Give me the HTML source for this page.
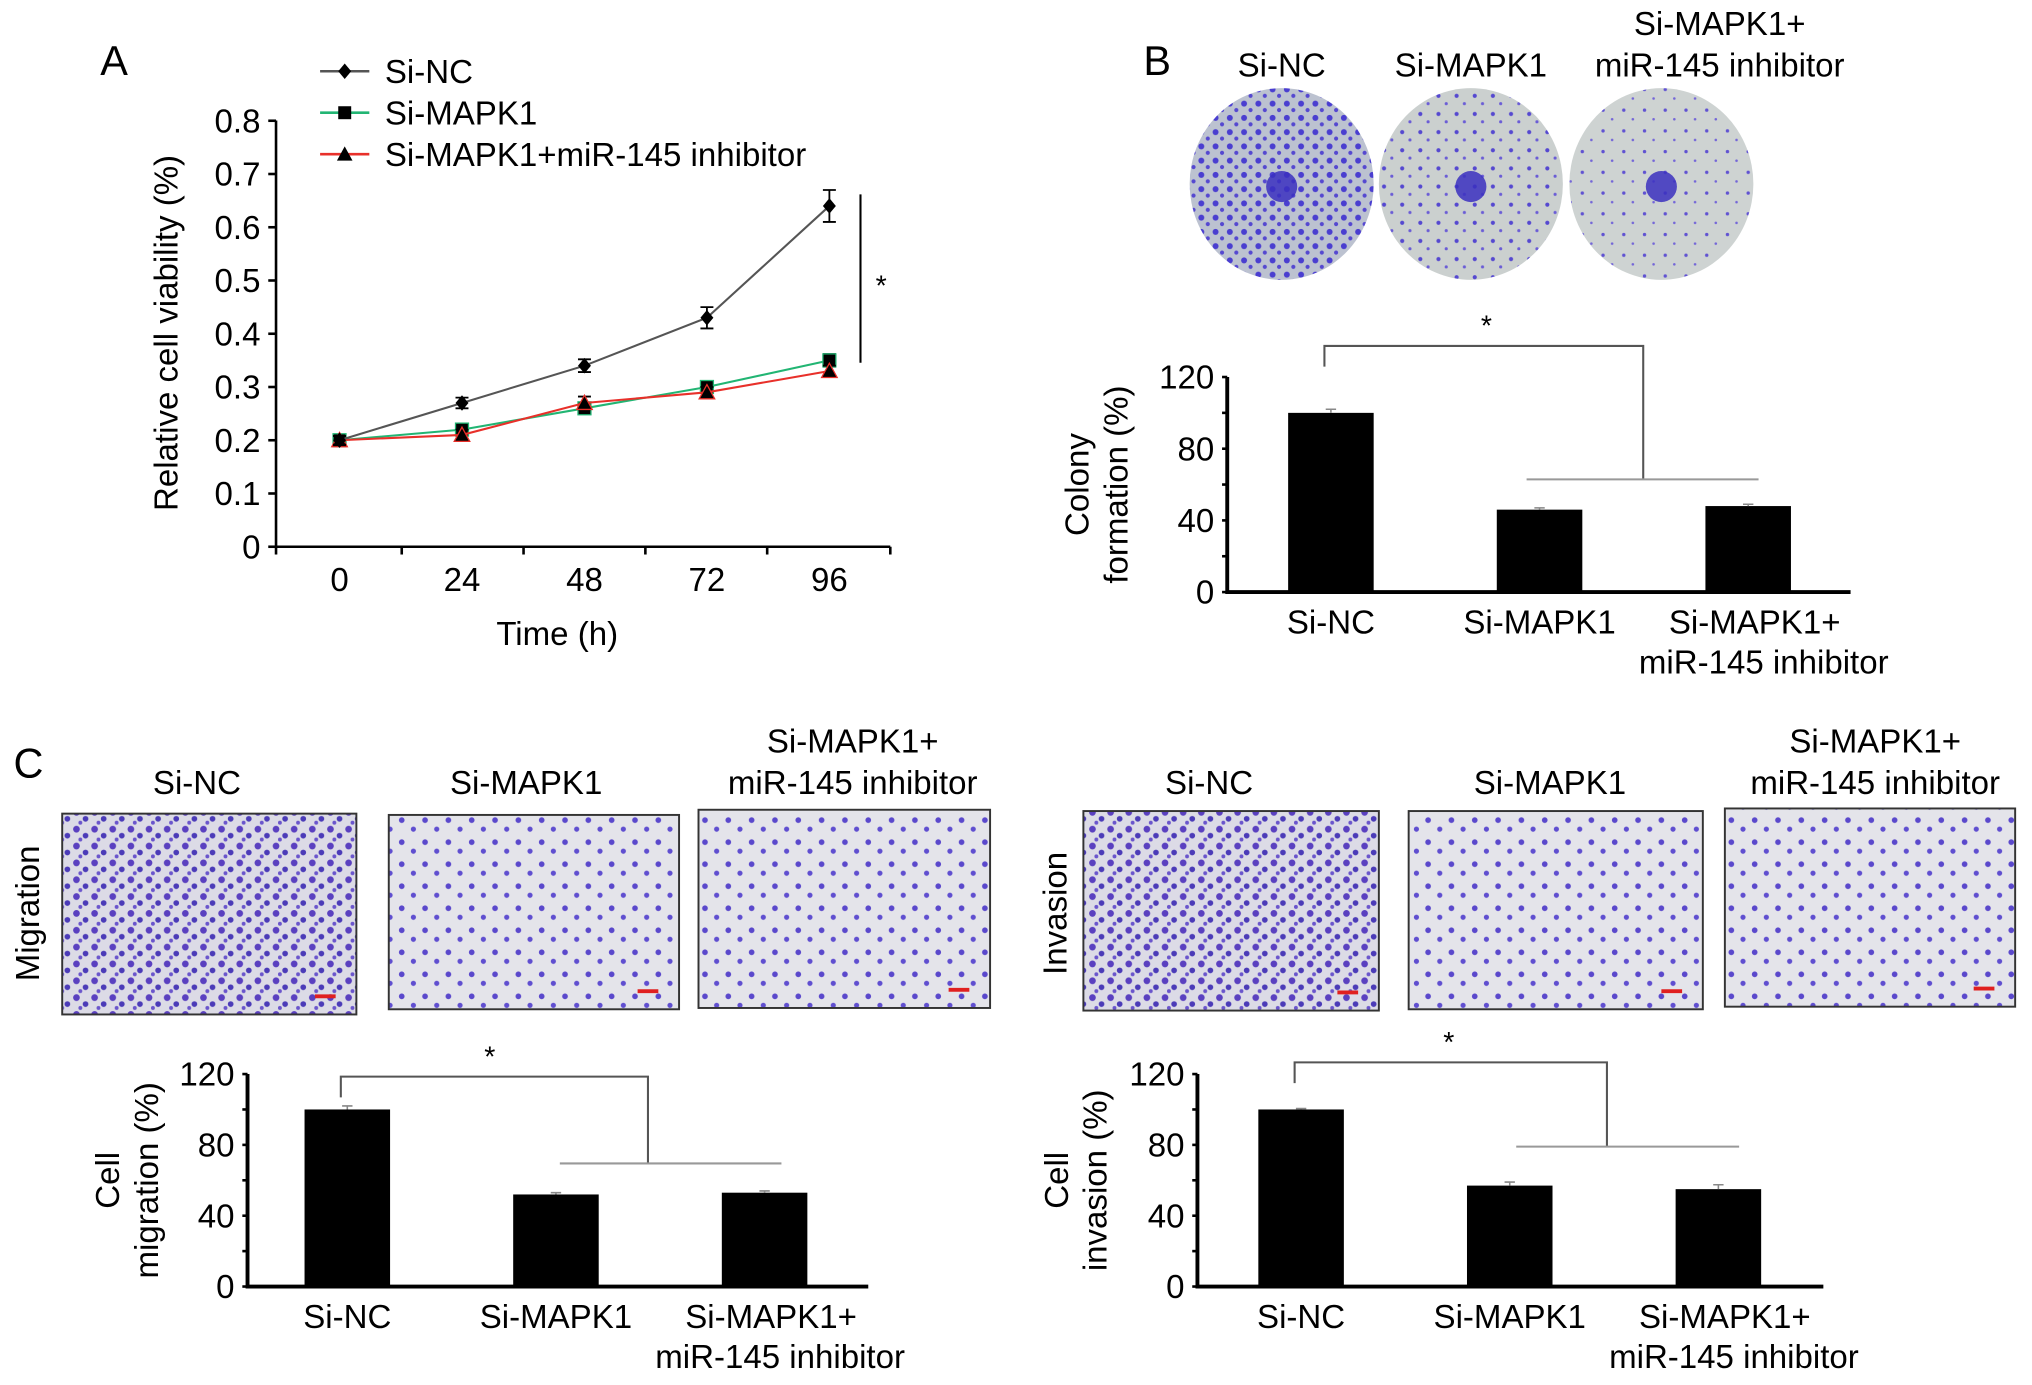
<!DOCTYPE html>
<html><head><meta charset="utf-8">
<style>
html,body{margin:0;padding:0;background:#fff;}
svg{display:block;font-family:"Liberation Sans",Arial,sans-serif;}
</style></head>
<body>
<svg id="fig" width="2032" height="1385" viewBox="0 0 1568 1069" preserveAspectRatio="none" xmlns="http://www.w3.org/2000/svg">
<defs>
<pattern id="dense" width="14" height="13" patternUnits="userSpaceOnUse">
<rect width="14" height="13" fill="#dcdbe6"/>
<circle cx="3" cy="3" r="2.6" fill="#5a40c0"/><circle cx="10" cy="8" r="2.2" fill="#4b3bb8"/><circle cx="6" cy="11" r="1.5" fill="#6a55cc"/>
</pattern>
<pattern id="mid" width="18" height="17" patternUnits="userSpaceOnUse">
<rect width="18" height="17" fill="#e4e4ea"/>
<circle cx="4" cy="4" r="2.2" fill="#5a48cc"/><circle cx="13" cy="11" r="2" fill="#5f4ed0"/>
</pattern>
<pattern id="dish1" width="11" height="11" patternUnits="userSpaceOnUse">
<rect width="11" height="11" fill="#bcc2d0"/>
<circle cx="3" cy="3" r="2.3" fill="#4a3ed0"/><circle cx="8" cy="8" r="1.6" fill="#5548d0"/>
</pattern>
<pattern id="dish2" width="14" height="14" patternUnits="userSpaceOnUse">
<rect width="14" height="14" fill="#cbd0cf"/>
<circle cx="4" cy="4" r="1.6" fill="#5548d0"/><circle cx="10" cy="10" r="1.2" fill="#6a5cd6"/>
</pattern>
<pattern id="dish3" width="16" height="16" patternUnits="userSpaceOnUse">
<rect width="16" height="16" fill="#ced3d2"/>
<circle cx="5" cy="5" r="1.3" fill="#6052d2"/><circle cx="12" cy="12" r="1" fill="#7466d8"/>
</pattern>
</defs>
<g id="root"></g>
</svg>
<script>
// ---- Panel A data ----
const timeCats = [0, 24, 48, 72, 96];
const siNC = [0.20, 0.27, 0.34, 0.43, 0.64];
const siNCErr = [0.008, 0.01, 0.012, 0.02, 0.03];
const siMAPK1 = [0.20, 0.22, 0.26, 0.30, 0.35];
const siMAPK1Err = [0.008, 0.01, 0.01, 0.01, 0.012];
const siInhib = [0.20, 0.21, 0.27, 0.29, 0.33];
const siInhibErr = [0.008, 0.01, 0.012, 0.01, 0.01];
const yTicksA = [0, 0.1, 0.2, 0.3, 0.4, 0.5, 0.6, 0.7, 0.8];
// ---- Bar chart data ----
const barCats = ["Si-NC", "Si-MAPK1", "Si-MAPK1+|miR-145 inhibitor"];
const colonyVals = [100, 46, 48];
const colonyErr = [2, 1, 1];
const migrationVals = [100, 52, 53];
const migrationErr = [2, 1, 1];
const invasionVals = [100, 57, 55];
const invasionErr = [0.5, 2, 2.5];
const barTicks = [0, 40, 80, 120];

const FS = 25.5;
const NS = "http://www.w3.org/2000/svg";
const root = document.getElementById("root");
function mk(tag, attrs, parent, txt) {
  const e = document.createElementNS(NS, tag);
  for (const k in attrs) e.setAttribute(k, attrs[k]);
  if (txt !== undefined) e.textContent = txt;
  (parent || root).appendChild(e);
  return e;
}
function label(x, y, s, size, anchor, name, rot) {
  const t = mk("text", {x: x, y: y, "font-size": size, "text-anchor": anchor || "middle", fill: "#000"}, root, s);
  if (rot) t.setAttribute("transform", "rotate(-90 " + x + " " + y + ")");
  
  
  return t;
}

// ===== Panel A =====
label(88, 58, "A", 32, "middle", "panel-a-label");
const ax = v => 262 + (v / 24) * 94.5;
const ay = v => 422 - v * 411;
const axisA = mk("path", {d: "M213 93 V422 H687", stroke: "#000", "stroke-width": 2, fill: "none"});


yTicksA.forEach(v => {
  const tk = mk("line", {x1: 207, x2: 213, y1: ay(v), y2: ay(v), stroke: "#000", "stroke-width": 2});
  
  
  label(201, ay(v) + 9, String(v), FS, "end", "y-tick-label");
});
[213, 310, 404, 498, 592, 687].forEach(x => {
  const tk = mk("line", {x1: x, x2: x, y1: 422, y2: 428, stroke: "#000", "stroke-width": 2});
  
  
});
timeCats.forEach(t => label(ax(t), 456, String(t), FS, "middle", "x-tick-label"));
label(430, 498, "Time (h)", FS, "middle", "x-axis-title");
label(137, 257, "Relative cell viability (%)", FS, "middle", "y-axis-title", true);

function series(vals, errs, color, marker, name) {
  const g = mk("g", {});
  
  
  mk("polyline", {points: vals.map((v, i) => ax(timeCats[i]) + "," + ay(v)).join(" "), fill: "none", stroke: color, "stroke-width": 1.6}, g);
  vals.forEach((v, i) => {
    const x = ax(timeCats[i]), y = ay(v), e = errs[i] * 411;
    mk("path", {d: `M${x} ${y - e}V${y + e}M${x - 5} ${y - e}H${x + 5}M${x - 5} ${y + e}H${x + 5}`, stroke: "#000", "stroke-width": 1.4}, g);
    let m;
    if (marker === "d") m = mk("path", {d: `M${x} ${y - 6}L${x + 5} ${y}L${x} ${y + 6}L${x - 5} ${y}Z`, fill: "#000"}, g);
    else if (marker === "s") m = mk("rect", {x: x - 5, y: y - 5, width: 10, height: 10, fill: "#000", stroke: color, "stroke-width": 1}, g);
    else m = mk("path", {d: `M${x} ${y - 6}L${x + 6} ${y + 5}L${x - 6} ${y + 5}Z`, fill: "#000", stroke: color, "stroke-width": 1}, g);
    
    
  });
}
series(siMAPK1, siMAPK1Err, "#22b573", "s", "series-si-mapk1");
series(siInhib, siInhibErr, "#e8302a", "t", "series-si-mapk1-inhibitor");
series(siNC, siNCErr, "#555", "d", "series-si-nc");
const sig = mk("line", {x1: 664, x2: 664, y1: 150, y2: 280, stroke: "#000", "stroke-width": 1.6});


label(680, 228, "*", 22, "middle", "significance-star");
// legend
[["Si-NC", "#555", "d"], ["Si-MAPK1", "#22b573", "s"], ["Si-MAPK1+miR-145 inhibitor", "#e8302a", "t"]].forEach((l, i) => {
  const y = 55 + i * 32;
  const g = mk("g", {});
  
  
  mk("line", {x1: 247, x2: 285, y1: y, y2: y, stroke: l[1], "stroke-width": 2}, g);
  const x = 266;
  if (l[2] === "d") mk("path", {d: `M${x} ${y - 6}L${x + 5} ${y}L${x} ${y + 6}L${x - 5} ${y}Z`, fill: "#000"}, g);
  else if (l[2] === "s") mk("rect", {x: x - 5, y: y - 5, width: 10, height: 10, fill: "#000"}, g);
  else mk("path", {d: `M${x} ${y - 6}L${x + 6} ${y + 5}L${x - 6} ${y + 5}Z`, fill: "#000"}, g);
  mk("text", {x: 297, y: y + 9, "font-size": FS}, g, l[0]);
});

// ===== Panel B dishes =====
label(893, 58, "B", 32, "middle", "panel-b-label");
label(989, 59, "Si-NC", FS, "middle", "dish-label");
label(1135, 59, "Si-MAPK1", FS, "middle", "dish-label");
label(1327, 27, "Si-MAPK1+", FS, "middle", "dish-label");
label(1327, 59, "miR-145 inhibitor", FS, "middle", "dish-label");
[[989, "dish1"], [1135, "dish2"], [1282, "dish3"]].forEach(d => {
  const c = mk("ellipse", {cx: d[0], cy: 142, rx: 71, ry: 74, fill: `url(#${d[1]})`});
  
  
  const h = mk("circle", {cx: d[0], cy: 144, r: 12, fill: "#3b30c0", opacity: 0.85});
  
  
});

// ===== Bar charts =====
function barChart(o) {
  const g = mk("g", {});
  
  
  const y = v => o.y0 - v * (o.y0 - o.ytop) / 120;
  mk("path", {d: `M${o.x0} ${o.ytop}V${o.y0}H${o.x1}`, stroke: "#000", "stroke-width": 3, fill: "none"}, g);
  for (let v = 0; v <= 120; v += 20) mk("line", {x1: o.x0 - 4, x2: o.x0, y1: y(v), y2: y(v), stroke: "#000", "stroke-width": 2}, g);
  barTicks.forEach(v => {
    const t = mk("text", {x: o.x0 - 10, y: y(v) + 9, "font-size": FS, "text-anchor": "end"}, g, String(v));
    
    
  });
  o.vals.forEach((v, i) => {
    const cx = o.cx0 + i * o.step;
    const b = mk("rect", {x: cx - 33, y: y(v), width: 66, height: o.y0 - y(v), fill: "#000"}, g);
    
    
    const e = o.errs[i];
    mk("path", {d: `M${cx} ${y(v + e)}V${y(v)}M${cx - 4} ${y(v + e)}H${cx + 4}`, stroke: "#888", "stroke-width": 1.2}, g);
    const parts = barCats[i].split("|");
    parts.forEach((p, k) => {
      const t = mk("text", {x: cx + (parts.length > 1 ? (k ? 12 : 5) : 0), y: o.y0 + 32 + k * 31, "font-size": FS, "text-anchor": "middle"}, g, p);
      
      
    });
  });
  o.titles.forEach((t, k) => {
    const tx = o.tx + k * 30, ty = (o.y0 + o.ytop) / 2;
    const e = mk("text", {x: tx, y: ty, "font-size": FS, "text-anchor": "middle", transform: `rotate(-90 ${tx} ${ty})`}, g, t);
    
    
  });
  const b = o.br;
  const br = mk("path", {d: `M${o.cx0 - 5} ${b.top + 16}V${b.top}H${b.mid}V${b.low}`, stroke: "#555", "stroke-width": 1.6, fill: "none"}, g);
  
  
  mk("line", {x1: b.l, x2: b.r, y1: b.low, y2: b.low, stroke: "#999", "stroke-width": 1.6}, g);
  const s = mk("text", {x: b.sx, y: b.top - 8, "font-size": 22, "text-anchor": "middle"}, g, "*");
  
  
}
barChart({name: "colony-chart", x0: 947, x1: 1428, y0: 457, ytop: 291, cx0: 1027, step: 161, vals: colonyVals, errs: colonyErr,
  titles: ["Colony", "formation (%)"], tx: 840, br: {top: 267, mid: 1268, low: 370, l: 1178, r: 1357, sx: 1147}});
barChart({name: "migration-chart", x0: 191, x1: 670, y0: 993, ytop: 829, cx0: 268, step: 161, vals: migrationVals, errs: migrationErr,
  titles: ["Cell", "migration (%)"], tx: 92, br: {top: 831, mid: 500, low: 898, l: 432, r: 603, sx: 378}});
barChart({name: "invasion-chart", x0: 924, x1: 1407, y0: 993, ytop: 829, cx0: 1004, step: 161, vals: invasionVals, errs: invasionErr,
  titles: ["Cell", "invasion (%)"], tx: 824, br: {top: 820, mid: 1240, low: 885, l: 1170, r: 1342, sx: 1118}});

// ===== Panel C micrographs =====
label(22, 600, "C", 32, "middle", "panel-c-label");
label(30, 705, "Migration", FS, "middle", "migration-row-label", true);
label(823, 705, "Invasion", FS, "middle", "invasion-row-label", true);
[[152, "Si-NC"], [406, "Si-MAPK1"], [933, "Si-NC"], [1196, "Si-MAPK1"]].forEach(l => label(l[0], 613, l[1], FS, "middle", "image-label"));
[658, 1447].forEach(x => { label(x, 581, "Si-MAPK1+", FS, "middle", "image-label"); label(x, 613, "miR-145 inhibitor", FS, "middle", "image-label"); });
[[48, 628, 227, 155, "dense"], [300, 629, 224, 150, "mid"], [539, 625, 225, 153, "mid"],
 [836, 626, 228, 154, "dense"], [1087, 626, 227, 153, "mid"], [1331, 624, 224, 153, "mid"]].forEach(r => {
  const im = mk("rect", {x: r[0], y: r[1], width: r[2], height: r[3], fill: `url(#${r[4]})`, stroke: "#333", "stroke-width": 1.5});
  
  
  const sb = mk("line", {x1: r[0] + r[2] - 32, x2: r[0] + r[2] - 16, y1: r[1] + r[3] - 14, y2: r[1] + r[3] - 14, stroke: "#e02020", "stroke-width": 3});
  
  
});
</script>
</body></html>
